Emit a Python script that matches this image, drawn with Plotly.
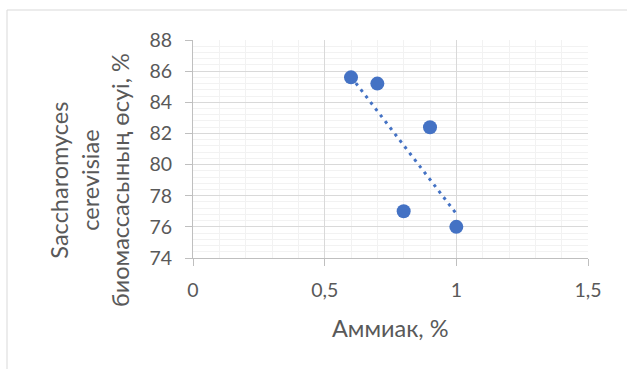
import numpy as np
import plotly.graph_objects as go

# Data
ammonia = [0.6, 0.7, 0.8, 0.9, 1.0]
biomass_growth = [85.6, 85.2, 77.0, 82.4, 76.0]
x_ticks = [0, 0.5, 1, 1.5]
y_ticks = [74, 76, 78, 80, 82, 84, 86, 88]
x_title = "Аммиак, %"
y_title_lines = ["Saccharomyces", "cerevisiae", "биомассасының өсуі, %"]

BLUE = "#4472C4"
TEXT = "#595959"
FONT = "Lato"

# linear trendline (least squares) from the data
slope, intercept = np.polyfit(ammonia, biomass_growth, 1)
trend_x = [min(ammonia), max(ammonia)]
trend_y = [slope * v + intercept for v in trend_x]

fig = go.Figure()
fig.add_trace(go.Scatter(
    x=trend_x, y=trend_y, mode="lines",
    line=dict(color=BLUE, width=3, dash="3px,5px"),
    hoverinfo="skip", showlegend=False,
))
fig.add_trace(go.Scatter(
    x=ammonia, y=biomass_growth, mode="markers",
    marker=dict(color=BLUE, size=14, line=dict(width=0)),
    showlegend=False,
))

L, R, T, B = 193, 39, 40, 111
W, H = 627, 369
pw = W - L - R
ph = H - T - B

def px_x(p):
    return (p - L) / pw

def px_y(p):
    return (H - B - p) / ph

fig.update_layout(
    width=W, height=H,
    margin=dict(l=L, r=R, t=T, b=B, pad=0),
    paper_bgcolor="white", plot_bgcolor="white",
    separators=", ",
    font=dict(family=FONT, color=TEXT, size=19),
    xaxis=dict(
        range=[0, 1.5], tickvals=x_ticks, ticks="outside", ticklen=7,
        tickcolor="#bfbfbf", showline=True, linecolor="#bfbfbf", linewidth=1,
        showgrid=True, gridcolor="#d9d9d9", gridwidth=1, zeroline=False,
        minor=dict(dtick=0.1, showgrid=True, gridcolor="#f2f2f2", ticks=""),
        tickfont=dict(size=19.5, color=TEXT, family=FONT),
        ticklabelstandoff=8,
        fixedrange=True,
    ),
    yaxis=dict(
        range=[74, 88], tickvals=y_ticks, ticks="outside", ticklen=7,
        tickcolor="#bfbfbf", showline=True, linecolor="#bfbfbf", linewidth=1,
        showgrid=True, gridcolor="#d9d9d9", gridwidth=1, zeroline=False,
        minor=dict(dtick=0.4, tick0=74, showgrid=True, gridcolor="#f2f2f2", ticks=""),
        tickfont=dict(size=19.5, color=TEXT, family=FONT),
        ticklabelstandoff=9,
        fixedrange=True,
    ),
    shapes=[dict(
        type="rect", xref="paper", yref="paper",
        x0=px_x(7), x1=px_x(660), y0=px_y(400), y1=px_y(10),
        line=dict(color="#d9d9d9", width=1), fillcolor="rgba(0,0,0,0)",
        layer="below",
    )],
    annotations=[
        dict(text=x_title, xref="paper", yref="paper",
             x=0.5, y=px_y(328), xanchor="center", yanchor="middle",
             showarrow=False, font=dict(size=23.5, color=TEXT, family=FONT)),
        dict(text="<br>".join(y_title_lines), xref="paper", yref="paper",
             x=px_x(90), y=px_y(180), xanchor="center", yanchor="middle",
             textangle=-90, showarrow=False,
             font=dict(size=23.5, color=TEXT, family=FONT)),
    ],
)

fig.write_html("out.html")
